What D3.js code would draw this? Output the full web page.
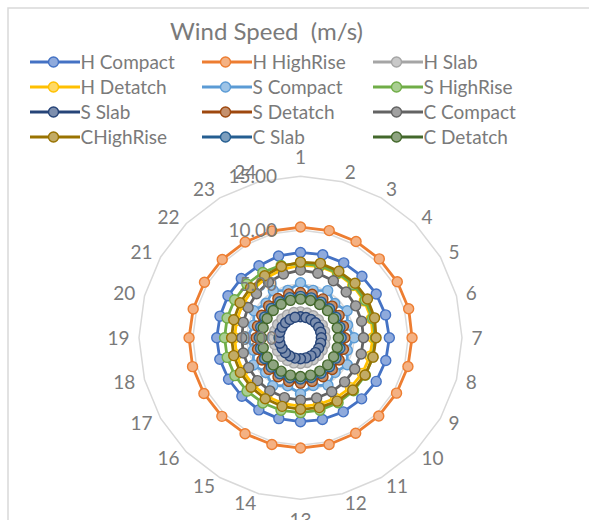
<!DOCTYPE html>
<html>
<head>
<meta charset="utf-8">
<script src="https://cdn.jsdelivr.net/npm/d3@7"></script>
<style>
  html, body { margin: 0; padding: 0; background: #ffffff; }
  svg { display: block; font-family: Lato, "Open Sans", sans-serif; }
  text { white-space: pre; }
</style>
</head>
<body>
<svg id="chart" width="589" height="520"></svg>
<script>
// ---- data -------------------------------------------------------------
const categories = ["1","2","3","4","5","6","7","8","9","10","11","12",
                    "13","14","15","16","17","18","19","20","21","22","23","24"];

const valueTicks = [0, 5, 10, 15];
const valueTickLabels = ["0.00", "5.00", "10.00", "15.00"];

const seriesNames = ["H Compact", "H HighRise", "H Slab", "H Detatch",
                     "S Compact", "S HighRise", "S Slab", "S Detatch",
                     "C Compact", "CHighRise", "C Slab", "C Detatch"];

const seriesColors = ["#4472c4", "#ed7d31", "#a5a5a5", "#ffc000",
                      "#5b9bd5", "#70ad47", "#264478", "#9e480e",
                      "#636363", "#997300", "#255e91", "#43682b"];

// wind speed (m/s) per direction 1..24
const hCompact  = [7.92, 7.98, 8.03, 8.07, 8.12, 8.18, 8.25, 8.20, 8.12, 8.03, 7.95, 7.87,
                   7.80, 7.78, 7.74, 7.70, 7.72, 7.76, 7.78, 7.74, 7.78, 7.78, 7.72, 7.86];
const hHighRise = [10.28, 10.30, 10.32, 10.35, 10.38, 10.40, 10.36, 10.33, 10.30, 10.28, 10.25, 10.27,
                   10.25, 10.27, 10.30, 10.33, 10.36, 10.38, 10.35, 10.32, 10.30, 10.28, 10.27, 10.26];
const hSlab     = [2.40, 2.38, 2.36, 2.35, 2.34, 2.32, 2.30, 2.32, 2.33, 2.35, 2.36, 2.38,
                   2.40, 2.42, 2.44, 2.45, 2.46, 2.47, 2.48, 2.47, 2.46, 2.45, 2.43, 2.42];
const hDetatch  = [6.72, 6.85, 6.86, 6.86, 6.84, 6.80, 6.72, 6.68, 6.62, 6.56, 6.50, 6.44,
                   6.38, 6.32, 6.28, 6.22, 6.18, 6.15, 6.12, 6.14, 6.20, 6.28, 6.40, 6.56];
const sCompact  = [5.10, 4.55, 5.05, 4.50, 5.00, 4.52, 4.98, 4.50, 5.02, 4.55, 5.10, 4.60,
                   5.20, 4.62, 5.15, 4.58, 5.05, 4.52, 4.98, 4.50, 5.00, 4.52, 5.05, 4.55];
const sHighRise = [6.90, 6.92, 6.95, 6.96, 6.95, 6.94, 6.95, 6.95, 6.96, 6.97, 6.98, 6.97,
                   6.96, 6.98, 7.00, 7.02, 7.04, 7.05, 7.05, 7.06, 7.06, 7.05, 7.00, 6.95];
const sSlab     = [1.95, 1.94, 1.95, 1.96, 1.95, 1.94, 1.93, 1.94, 1.95, 1.96, 1.95, 1.94,
                   1.95, 1.96, 1.97, 1.98, 1.97, 1.98, 1.99, 1.98, 1.97, 1.96, 1.95, 1.96];
const sDetatch  = [4.20, 4.18, 4.16, 4.15, 4.14, 4.13, 4.12, 4.13, 4.15, 4.17, 4.18, 4.20,
                   4.22, 4.20, 4.18, 4.16, 4.14, 4.13, 4.12, 4.14, 4.16, 4.18, 4.20, 4.21];
const cCompact  = [6.28, 6.20, 6.10, 6.00, 5.92, 5.88, 5.85, 5.84, 5.82, 5.80, 5.80, 5.80,
                   5.80, 5.76, 5.70, 5.64, 5.56, 5.50, 5.45, 5.50, 5.62, 5.78, 5.95, 6.12];
const cHighRise = [7.02, 7.15, 7.12, 7.16, 7.18, 7.12, 7.02, 6.98, 6.92, 6.86, 6.80, 6.72,
                   6.65, 6.60, 6.55, 6.50, 6.45, 6.42, 6.40, 6.42, 6.48, 6.56, 6.65, 6.85];
const cSlab     = [3.84, 3.83, 3.82, 3.81, 3.80, 3.79, 3.78, 3.79, 3.80, 3.81, 3.82, 3.83,
                   3.84, 3.85, 3.86, 3.86, 3.85, 3.84, 3.83, 3.83, 3.84, 3.84, 3.85, 3.85];
const cDetatch  = [3.58, 3.57, 3.56, 3.55, 3.54, 3.53, 3.52, 3.53, 3.55, 3.57, 3.58, 3.60,
                   3.61, 3.60, 3.59, 3.58, 3.57, 3.58, 3.59, 3.59, 3.58, 3.58, 3.59, 3.59];

const seriesValues = [hCompact, hHighRise, hSlab, hDetatch,
                      sCompact, sHighRise, sSlab, sDetatch,
                      cCompact, cHighRise, cSlab, cDetatch];

// ---- layout -----------------------------------------------------------
const W = 589, H = 520;
const cx = 300.5, cy = 337.7, outerR = 161.5;
const textGray = "#7a7a7a";
const gridGray = "#d9d9d9";
const markerR = 5;

const svg = d3.select("#chart");

// chart frame (top and left edges)
svg.append("path")
  .attr("d", `M8,${H + 4} V8 H${W + 4}`)
  .attr("fill", "none")
  .attr("stroke", gridGray)
  .attr("stroke-width", 1.5);

// title
svg.append("text")
  .attr("x", 266.5).attr("y", 40)
  .attr("text-anchor", "middle")
  .attr("font-size", 24)
  .attr("fill", textGray)
  .text("Wind Speed  (m/s)");

// legend: 3 columns x 4 rows
const legCols = [30, 202, 373];
const legRows = [62, 87, 112, 137];
const tint = c => d3.interpolateRgb(c, "#ffffff")(0.4);

const leg = svg.append("g");
seriesNames.forEach((name, i) => {
  const x = legCols[i % 3], y = legRows[Math.floor(i / 3)];
  const item = leg.append("g").attr("transform", `translate(${x},${y})`);
  item.append("line").attr("x1", 0).attr("x2", 50).attr("y1", 0).attr("y2", 0)
    .attr("stroke", seriesColors[i]).attr("stroke-width", 2.8);
  item.append("circle").attr("cx", 23.5).attr("cy", 0).attr("r", markerR)
    .attr("fill", tint(seriesColors[i])).attr("stroke", seriesColors[i]).attr("stroke-width", 1.4);
  item.append("text").attr("x", 50.5).attr("y", 0).attr("dy", "0.35em")
    .attr("font-size", 19).attr("fill", textGray).text(name);
});

// radar scales
const r = d3.scaleLinear().domain([0, 15]).range([0, outerR]);
const ang = d3.scaleLinear().domain([0, categories.length]).range([0, 2 * Math.PI]);

const plot = svg.append("g").attr("transform", `translate(${cx},${cy})`);

const ring = d3.lineRadial()
  .angle((d, i) => ang(i))
  .radius(d => r(d))
  .curve(d3.curveLinearClosed);

// gridline polygons
plot.append("g").selectAll("path")
  .data(valueTicks.filter(v => v > 0))
  .join("path")
  .attr("d", v => ring(categories.map(() => v)))
  .attr("fill", "none")
  .attr("stroke", gridGray)
  .attr("stroke-width", 1.5);

// category labels
const labelR = 171;
plot.append("g").selectAll("text")
  .data(categories)
  .join("text")
  .each(function (d, i) {
    const t = ang(i);
    const s = Math.sin(t), c = Math.cos(t);
    const x = labelR * s, y = -labelR * c;
    let anchor = "middle";
    if (s > 0.05) anchor = "start";
    else if (s < -0.05) anchor = "end";
    let dy = 0;
    if (Math.abs(s) < 0.05) dy = c > 0 ? -10 : 11;
    d3.select(this).attr("x", x).attr("y", y + dy)
      .attr("dy", "0.36em")
      .attr("text-anchor", anchor);
  })
  .attr("font-size", 19)
  .attr("fill", textGray)
  .text(d => d);

// series: polygon line then markers, drawn in legend order
seriesValues.forEach((vals, i) => {
  const col = seriesColors[i];
  const sg = plot.append("g");
  sg.append("path")
    .attr("d", ring(vals))
    .attr("fill", "none")
    .attr("stroke", col)
    .attr("stroke-width", 2.8)
    .attr("stroke-linejoin", "round");
  sg.selectAll("circle")
    .data(vals)
    .join("circle")
    .attr("cx", (d, k) => r(d) * Math.sin(ang(k)))
    .attr("cy", (d, k) => -r(d) * Math.cos(ang(k)))
    .attr("r", markerR)
    .attr("fill", tint(col))
    .attr("stroke", col)
    .attr("stroke-width", 1.4);
});

// value axis labels, right-aligned left of the first spoke
plot.append("g").selectAll("text")
  .data(valueTicks)
  .join("text")
  .attr("x", -23.5)
  .attr("y", v => -r(v))
  .attr("dy", "0.36em")
  .attr("text-anchor", "end")
  .attr("font-size", 19)
  .attr("fill", textGray)
  .text((v, i) => valueTickLabels[i]);
</script>
</body>
</html>
